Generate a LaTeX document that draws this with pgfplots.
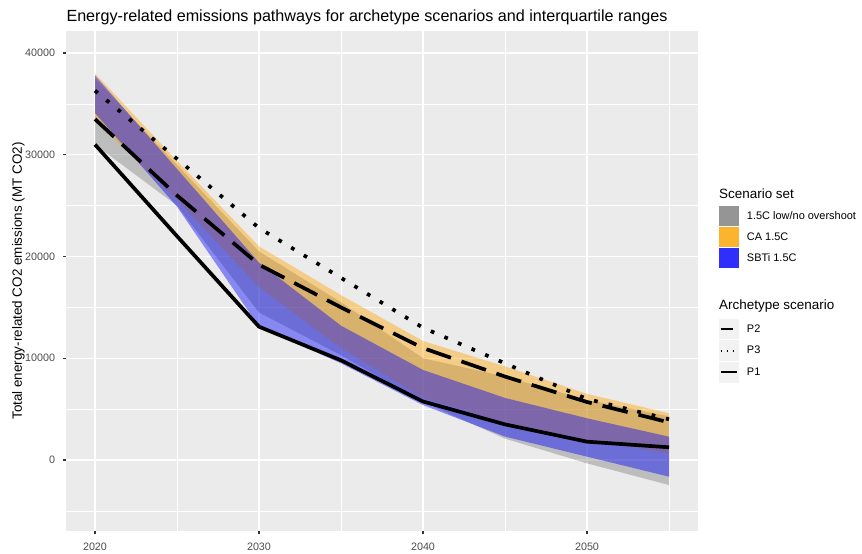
\documentclass[border=0pt]{standalone}
\usepackage{pgfplots}
\pgfplotsset{compat=1.18}
\usepackage{pgfplotstable}
\usepgfplotslibrary{fillbetween}
\usepackage{fontspec}
\setmainfont{Liberation Sans}
\definecolor{bgpanel}{RGB}{235,235,235}
\definecolor{tickcol}{RGB}{51,51,51}
\definecolor{labcol}{RGB}{77,77,77}
\definecolor{ribgray}{RGB}{127,127,127}
\definecolor{ribor}{RGB}{255,165,0}
\definecolor{ribbl}{RGB}{0,0,255}
\definecolor{keygray}{RGB}{149,149,149}
\definecolor{keyor}{RGB}{252,180,47}
\definecolor{keybl}{RGB}{47,47,252}
\definecolor{keybg}{RGB}{242,242,242}

\pgfplotstableread{
year gLo gHi oLo oHi bLo bHi p1 p2 p3
2020 31000 37500 33400 38000 34100 37800 31000 33500 36300
2025 25000 29000 25550 29400 24900 28600 22000 26000 29600
2030 14500 20500 17000 21000 13100 19400 13100 19200 22800
2035 10300 15500 11000 16200 9500 13200 9800 15000 17900
2040 5700 10000 6100 11700 5400 8850 5750 11000 13000
2045 2100 8200 3700 9200 2300 6100 3500 8200 9500
2050 -330 5900 1970 6500 330 4100 1800 5700 6000
2055 -2460 4300 650 4600 -1640 2290 1250 3700 4000
}\datatable

\begin{document}
\begin{tikzpicture}
\begin{axis}[
  at={(66.3bp,23bp)}, anchor=south west,
  width=631.4bp, height=500bp, scale only axis,
  xmin=2018.25, xmax=2056.75, ymin=-6978, ymax=42162,
  scaled ticks=false,
  clip mode=individual,
  axis background/.style={fill=bgpanel},
  axis line style={draw=none},
  xtick={2020,2030,2040,2050}, xticklabels={2020,2030,2040,2050},
  ytick={0,10000,20000,30000,40000}, yticklabels={0,10000,20000,30000,40000},
  minor xtick={2025,2035,2045,2055}, minor ytick={-5000,5000,15000,25000,35000},
  grid=both,
  major grid style={white, line width=1.1bp},
  minor grid style={white, line width=0.55bp},
  tick align=outside, major tick length=3.4bp, minor tick length=0pt,
  xtick pos=bottom, ytick pos=left,
  major tick style={color=tickcol, line width=1.1bp},
  tick label style={font=\fontsize{10.8}{12}\selectfont, text=labcol, inner sep=0pt},
  xticklabel style={yshift=-8.4bp},
  yticklabel style={xshift=-7.6bp},
  title={Energy-related emissions pathways for archetype scenarios and interquartile ranges},
  every axis title/.style={at={(axis description cs:0,1)}, anchor=base west, yshift=9.5bp, inner sep=0pt, font=\fontsize{16.2}{19}\selectfont},
  ylabel={Total energy-related CO2 emissions (MT CO2)},
  every axis y label/.style={at={(axis description cs:-0.0757,0.5)}, rotate=90, anchor=center, inner sep=0pt, font=\fontsize{13.5}{16}\selectfont},
  legend style={
    at={(axis description cs:1.0337,0.651)}, anchor=north west,
    draw=none, fill=none, inner sep=0pt, outer sep=0pt,
    row sep=0pt, column sep=8bp,
    nodes={inner sep=0pt, outer sep=0pt, text=black},
    font=\fontsize{11}{13}\selectfont,
  },
  legend cell align=left,
]
% ribbons
\addplot[name path=gHi, draw=none, forget plot] table[x=year,y=gHi]{\datatable};
\addplot[name path=gLo, draw=none, forget plot] table[x=year,y=gLo]{\datatable};
\addplot[fill=ribgray, fill opacity=0.42, draw=none, forget plot] fill between[of=gHi and gLo];
\addplot[name path=oHi, draw=none, forget plot] table[x=year,y=oHi]{\datatable};
\addplot[name path=oLo, draw=none, forget plot] table[x=year,y=oLo]{\datatable};
\addplot[fill=ribor, fill opacity=0.42, draw=none, forget plot] fill between[of=oHi and oLo];
\addplot[name path=bHi, draw=none, forget plot] table[x=year,y=bHi]{\datatable};
\addplot[name path=bLo, draw=none, forget plot] table[x=year,y=bLo]{\datatable};
\addplot[fill=ribbl, fill opacity=0.42, draw=none, forget plot] fill between[of=bHi and bLo];
% archetype lines
\addplot[black, line width=3.7bp, line join=round, dash pattern=on 25.9bp off 11.1bp, forget plot] table[x=year,y=p2]{\datatable};
\addplot[black, line width=3.7bp, line join=round, dash pattern=on 3.7bp off 11.1bp, forget plot] table[x=year,y=p3]{\datatable};
\addplot[black, line width=3.7bp, line join=round, forget plot] table[x=year,y=p1]{\datatable};
% legend titles
\node[anchor=base west, inner sep=0pt, font=\fontsize{13.5}{16}\selectfont] at (axis description cs:1.0337,0.664) {Scenario set};
\node[anchor=base west, inner sep=0pt, font=\fontsize{13.5}{16}\selectfont] at (axis description cs:1.0337,0.442) {Archetype scenario};
% legend
\addlegendimage{legend image code/.code={\path[draw=none] (0bp,-10.5bp) rectangle (20bp,10.5bp); \fill[keygray, draw=none] (0bp,-9.75bp) rectangle (20bp,9.75bp);}}
\addlegendentry{1.5C low/no overshoot}
\addlegendimage{legend image code/.code={\path[draw=none] (0bp,-10.5bp) rectangle (20bp,10.5bp); \fill[keyor, draw=none] (0bp,-9.75bp) rectangle (20bp,9.75bp);}}
\addlegendentry{CA 1.5C}
\addlegendimage{legend image code/.code={\path[draw=none] (0bp,-10.5bp) rectangle (20bp,10.5bp); \fill[keybl, draw=none] (0bp,-9.75bp) rectangle (20bp,9.75bp);}}
\addlegendentry{SBTi 1.5C}
\addlegendimage{empty legend}
\addlegendentry{\rule{0pt}{48.2bp}}
\addlegendimage{legend image code/.code={\path[draw=none] (0bp,-10.85bp) rectangle (20bp,10.85bp); \fill[keybg, draw=none] (0bp,-10.35bp) rectangle (20bp,10.35bp); \draw[black, solid, line width=2bp, dash pattern=on 12.6bp off 5.4bp] (1.7bp,0bp) -- (18.3bp,0bp);}}
\addlegendentry{P2}
\addlegendimage{legend image code/.code={\path[draw=none] (0bp,-10.85bp) rectangle (20bp,10.85bp); \fill[keybg, draw=none] (0bp,-10.35bp) rectangle (20bp,10.35bp); \draw[black, line width=2bp, dash pattern=on 1.8bp off 4.2bp] (1.7bp,0bp) -- (18.3bp,0bp);}}
\addlegendentry{P3}
\addlegendimage{legend image code/.code={\path[draw=none] (0bp,-10.85bp) rectangle (20bp,10.85bp); \fill[keybg, draw=none] (0bp,-10.35bp) rectangle (20bp,10.35bp); \draw[black, solid, line width=2bp] (1.7bp,0bp) -- (18.3bp,0bp);}}
\addlegendentry{P1}
\end{axis}
\pgfresetboundingbox
\path[use as bounding box] (0,0) rectangle (862bp,554bp);
\end{tikzpicture}
\end{document}
